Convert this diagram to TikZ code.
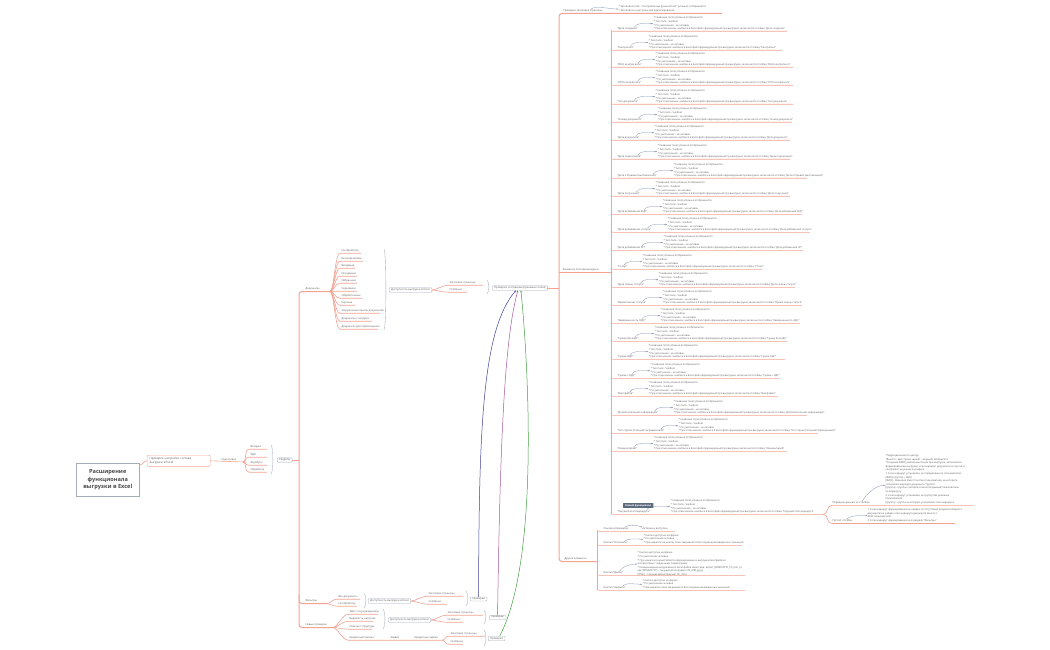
\documentclass[tikz,border=0pt]{standalone}
\usepackage{fontspec}
\setmainfont{Open Sans}
\usetikzlibrary{arrows.meta}
\definecolor{brc}{HTML}{F4A393}
\definecolor{txt}{HTML}{5A5A5A}
\definecolor{bxc}{HTML}{A4ACB8}
\definecolor{arc}{HTML}{8390AE}
\definecolor{cblue}{HTML}{3F3F9A}
\definecolor{cpurp}{HTML}{A8589A}
\definecolor{cgreen}{HTML}{45A045}
\definecolor{darkbx}{HTML}{5E6A7E}
\tikzset{
 lbl/.style={inner sep=0.3pt, text=txt, font=\fontsize{2.6}{3.2}\selectfont},
 bul/.style={inner sep=0.3pt, text=txt, align=left, font=\fontsize{2.5}{3.6}\selectfont},
 br/.style={draw=brc, line width=0.6pt},
 trunk/.style={draw=brc, line width=1pt},
 brkt/.style={draw=bxc, line width=0.35pt},
 bx/.style={draw=bxc, line width=0.35pt, rounded corners=0.8pt, fill=white, inner xsep=2pt, inner ysep=0.9pt, text=txt, font=\fontsize{2.7}{3.2}\selectfont},
 arr/.style={draw=arc, line width=0.3pt, -{Stealth[length=1.6pt,width=1.4pt]}},
 lnk/.style={line width=0.5pt, -{Stealth[length=2pt,width=1.6pt]}},
}
\newcommand\subi[6]{%
 \node[lbl,anchor=west] (#1) at (#2,#3) {#4};
 \draw[br] (#6) .. controls +(4,0) and +(-5,0) .. (#2-1,#3+2.2) -- (#5,#3+2.2);
}
\newcommand\mybrk[3]{\draw[brkt] (#1,#2) .. controls (#1+2.5,#2+2) and (#1+2.5,#3-2) .. (#1,#3);}
\newcommand\fld[5]{%
 \node[lbl,anchor=west] (#1) at (617,#2) {"#3"};
 \node[bul,anchor=south west] (#1b) at (#4,#2+1.8) {* Название поля успешно отображается\\* Тип поля - Чекбокс\\* По умолчанию - не активен\\* При отмеченном чекбоксе в Excel файл формируемый при выгрузке, включается столбец "#3"};
 \draw[br] (611,#2+0.5) .. controls (611,#2+2.3) .. (614,#2+2.3) -- (#5,#2+2.3);
 \draw[arr] ([xshift=-4pt]#1.north east) .. controls +(2,-5) and +(-7,0) .. (#1b.west);
}
\newcommand\oitem[4]{%
 \node[lbl,anchor=west] (#1) at (603,#2) {#3};
 \draw[br] (597,#2+0.5) .. controls (597,#2+2.3) .. (600,#2+2.3) -- (#4,#2+2.3);
}
\begin{document}
\begin{tikzpicture}[x=1pt,y=-1pt]
\useasboundingbox[fill=white] (0,0) rectangle (1050,650);

% ---------- root and left part
\node[draw=bxc, line width=0.5pt, fill=white, minimum width=63pt, minimum height=33pt, align=center, text=black!72, font=\bfseries\fontsize{5.6}{7.6}\selectfont, anchor=north west] (root) at (76,463) {Расширение\\функционала\\выгрузки в Excel};
\node[draw=brc, line width=0.45pt, rounded corners=1pt, fill=white, text width=58pt, inner xsep=2.5pt, inner ysep=2pt, align=left, text=txt, font=\fontsize{2.9}{4.2}\selectfont, anchor=north west] (chk) at (147,455) {Проверка настройки состава\\выгрузки в Excel};
\draw[br] ([yshift=-2pt]root.north east) .. controls +(4,0) and +(-4,0) .. (chk.west);

\node[lbl,anchor=west] (prep) at (221,459.6) {Подготовка};
\draw[br] (chk.east) -- (243,462);
\coordinate (psrc) at (243,462);
\subi{p1}{250}{447}{Вкладки}{267}{psrc}
\subi{p2}{250}{455}{ЭДО}{267}{psrc}
\subi{p3}{250}{463}{Атрибуты}{267}{psrc}
\subi{p4}{250}{470}{Обработка}{267}{psrc}
\mybrk{271}{445}{474}
\node[bx,anchor=west] (razd) at (277,460) {Разделы};
\draw[br] (razd.east) -- (299,460);
\draw[trunk,rounded corners=3pt] (330,291.5) -- (299,291.5) -- (299,627.5) -- (333,627.5);
\draw[trunk,rounded corners=3pt] (299,595) -- (299,603.5) -- (327,603.5);

% Документы
\node[lbl,anchor=west] (docs) at (305,289) {Документы};
\coordinate (dsrc) at (330,291.5);
\subi{d1}{341}{251}{На обработку}{361}{dsrc}
\subi{d2}{341}{259}{Без маркировки}{363}{dsrc}
\subi{d3}{341}{266}{Входящие}{355}{dsrc}
\subi{d4}{341}{274}{Исходящие}{357}{dsrc}
\subi{d5}{341}{281}{Избранные}{357}{dsrc}
\subi{d6}{341}{289}{Черновики}{357}{dsrc}
\subi{d7}{341}{296}{Обработанные}{362}{dsrc}
\subi{d8}{341}{303}{Корзина}{355}{dsrc}
\subi{d9}{341}{311}{Загруженные пакеты документов}{380}{dsrc}
\subi{d10}{341}{319}{Документы к загрузке}{372}{dsrc}
\subi{d11}{341}{327}{Документы для перемещения}{378}{dsrc}
\mybrk{384}{249}{330}
\node[bx,anchor=west] (av1) at (389,290) {Доступность выгрузки в Excel};
\subi{a1}{449}{283}{Заголовок страницы}{483}{av1.east}
\subi{a2}{449}{290}{Особенно}{467}{av1.east}
\mybrk{487}{280}{294}
\node[bx,anchor=west] (main) at (492,288) {Проверки состава выгружаемых полей};

% Фильтры
\node[lbl,anchor=west] (filt) at (305,601) {Фильтры};
\coordinate (fsrc) at (327,603.5);
\subi{f1}{338}{597}{Все документы}{360}{fsrc}
\subi{f2}{338}{604}{На обработку}{357}{fsrc}
\mybrk{364}{593}{608}
\node[bx,anchor=west] (av2) at (368,601) {Доступность выгрузки в Excel};
\subi{b1}{428}{594}{Заголовок страницы}{463}{av2.east}
\subi{b2}{428}{602}{Особенно}{447}{av2.east}
\mybrk{466}{591}{606}
\node[bx,anchor=west] (pv1) at (470,599) {проверки};

% Новые проверки
\node[lbl,anchor=west] (newc) at (305,625) {Новые проверки};
\coordinate (nsrc) at (333,627.5);
\subi{n1}{349}{612}{ЭДО с госучреждением}{378}{nsrc}
\subi{n2}{349}{619}{Видимость настроек}{373}{nsrc}
\subi{n3}{349}{627}{Пакеты и структура}{372}{nsrc}
\subi{n4}{349}{638}{Кредитный процесс}{442}{nsrc}
\node[lbl,anchor=west] (n5) at (390,638) {Заявки};
\node[lbl,anchor=west] (n6) at (414,638) {Кредитные заявки};
\mybrk{383}{609}{629}
\node[bx,anchor=west] (av3) at (388,620) {Доступность выгрузки в Excel};
\subi{c1}{447}{613}{Заголовок страницы}{483}{av3.east}
\subi{c2}{447}{620}{Особенно}{463}{av3.east}
\mybrk{484}{610}{624}
\node[bx,anchor=west] (pv2) at (489,617.5) {проверки};
\coordinate (ksrc) at (442,640.2);
\subi{k1}{450}{634}{Заголовок страницы}{485}{ksrc}
\subi{k2}{450}{642}{Особенно}{463}{ksrc}
\mybrk{484}{630}{646}
\node[bx,anchor=west] (pv3) at (488,638.5) {Проверка};

% links
\draw[lnk,draw=cblue] (pv1.north) .. controls (479,430) and (482,330) .. ([xshift=-4pt]main.south);
\draw[lnk,draw=cpurp] (pv2.north) .. controls (500,450) and (504,340) .. ([xshift=-2pt]main.south);
\draw[lnk,draw=cgreen] ([xshift=3pt]pv3.north) .. controls (540,560) and (528,360) .. ([xshift=1pt]main.south);

% ---------- right trunk
\draw[br] (main.east) -- (559,288);
\draw[trunk,rounded corners=3pt] (722,13.5) -- (559,13.5) -- (559,561.5) -- (597,561.5);
\draw[trunk,rounded corners=3pt] (559,272.5) -- (611,272.5);
\draw[trunk] (611,31.3) -- (611,514.3);

\node[lbl,anchor=west] (hdr) at (563,11) {Проверка заголовка страницы};
\node[bul,anchor=south west] (hdrb) at (618,12.6) {* Заголовок поля - "Настройки выгрузки в Excel" успешно отображается\\* Заголовок не доступен для редактирования};
\draw[arr] ([xshift=-12pt]hdr.north east) .. controls +(3,-4) and +(-7,0) .. (hdrb.west);

\node[lbl,anchor=west] (elem) at (562,270) {Элементы Состава выгрузки};

\fld{e1}{29}{Дата создания}{653}{787}
\fld{e2}{48}{Контрагент}{648}{782}
\fld{e3}{65}{ИНН контрагента}{655}{793}
\fld{e4}{83}{КПП контрагента}{655}{793}
\fld{e5}{102}{Тип документа}{655}{793}
\fld{e6}{120}{Номер документа}{657}{792}
\fld{e7}{138}{Дата документа}{654}{790}
\fld{e8}{157}{Дата подписания}{657}{790}
\fld{e9}{176}{Дата отправки (выставления)}{673}{807}
\fld{e10}{194}{Дата получения}{655}{790}
\fld{e11}{212}{Дата добавления ЭЦП}{662}{802}
\fld{e12}{230}{Дата добавления статуса}{667}{810}
\fld{e13}{248}{Дата добавления ЭП}{663}{803}
\fld{e14}{267}{Статус}{642}{762}
\fld{e15}{285}{Дата смены статуса}{658}{795}
\fld{e16}{303}{Время смены статуса}{662}{802}
\fld{e17}{321}{Завершенность ЭДО}{660}{800}
\fld{e18}{339}{Сумма без НДС}{654}{787}
\fld{e19}{357}{Сумма НДС}{648}{785}
\fld{e20}{376}{Сумма с НДС}{650}{780}
\fld{e21}{394}{Имя файла}{648}{778}
\fld{e22}{413}{Дополнительная информация}{673}{807}
\fld{e23}{431}{Тип строки (полный/сокращенный)}{678}{818}
\fld{e24}{449}{Комментарий}{653}{787}
\fld{e25}{512}{Текущий этап маршрута}{670}{823}
\node[fill=darkbx, text=white, font=\bfseries\fontsize{2.5}{3}\selectfont, inner xsep=2pt, inner ysep=1.2pt, rounded corners=0.5pt, anchor=west] (newf) at (623,505.5) {Новый функционал};

% branches of "Текущий этап маршрута"
\draw[br] (823,514.3) .. controls (829,514.3) and (826,505.3) .. (832,505.3) -- (973,505.3);
\draw[br] (823,514.3) .. controls (829,514.3) and (826,523.5) .. (832,523.5) -- (955,523.5);
\node[lbl,anchor=west] (pd) at (832,503) {Передача данных из столбца};
\node[bul,anchor=south west] (pdb) at (885,504.4) {*Подразделение по центру\\*Высота - две строки, шрифт - жирный, автовысота\\*Создание ВМФ уникальных ячеек при выгрузке, заполняется\\формированием выгрузки, если маршрут документа не пустой и\\контрагент не указан в конфиге\\1. Если маршрут установлен на определенного пользователя:\\{[ФИО] (группа) + ФИО}\\{[ФИО]} - Фамилия Имя Отчество пользователя, на которого\\установлен маршрут документа "группа"\\{[группа]} - группа к которой относится данный пользователь\\по маршруту\\2. Если маршрут установлен на группу без указания\\пользователя\\{[группа]} - группа на которую установлен этап маршрута.};
\draw[arr] ([xshift=-8pt]pd.north east) .. controls +(4,-6) and +(-10,0) .. ([yshift=-6pt]pdb.west);
\node[lbl,anchor=west] (ps) at (832,521) {Пустой столбец};
\node[bul,anchor=south west] (psb) at (867,522.6) {1. Если маршрут формирования не найден по отсутствию документооборота\\документа/не найден этап маршрута документа вместе с\\ФИО пользователя\\2. Если маршрут формирования не в разделе "Фильтры"};
\draw[arr] ([xshift=-6pt]ps.north east) .. controls +(4,-4) and +(-6,0) .. (psb.west);

% ---------- other elements
\node[lbl,anchor=west] (oth) at (564,559) {Другие элементы};
\draw[trunk] (597,531.3) -- (597,590.3);
\oitem{o1}{529}{Ссылка в примерах}{675}
\node[lbl,anchor=west] (o1b) at (642,529) {Активна и доступна};
\draw[arr] ([xshift=-4pt]o1.north east) .. controls +(3,-3) and +(-4,-2) .. (o1b.north west);
\oitem{o2}{543}{Кнопка "Отменить"}{742}
\node[bul,anchor=south west] (o2b) at (643,544.6) {* Кнопка доступна на форме\\* По умолчанию активна\\* При нажатии на кнопку окно закрывается без сохранения введенных значений};
\draw[arr] ([xshift=-4pt]o2.north east) .. controls +(3,-4) and +(-6,0) .. (o2b.west);
\oitem{o3}{573}{Кнопка "Далее"}{745}
\node[bul,anchor=south west] (o3b) at (637,576.6) {* Кнопка доступна на форме\\* По умолчанию активна\\* При нажатии осуществляется формирование и выгрузка Excel файла в\\соответствии с заданными параметрами\\* Наименование выгружаемого Excel файла имеет вид: export\_DDMMYYYY\_hh\_mm\_ss,\\где [DDMMYYYY] – текущая дата (формат dd\_MM\_yyyy),\\{[TIME]} – текущее время (формат hh\_mm).};
\draw[arr] ([xshift=-4pt]o3.north east) .. controls +(3,-5) and +(-7,0) .. (o3b.west);
\oitem{o4}{588}{Кнопка "Закрыть"}{745}
\node[bul,anchor=south west] (o4b) at (642,589.6) {* Кнопка доступна на форме\\* По умолчанию активна\\* При нажатии окно закрывается без сохранения введенных значений};
\draw[arr] ([xshift=-4pt]o4.north east) .. controls +(3,-4) and +(-6,0) .. (o4b.west);
\end{tikzpicture}
\end{document}
